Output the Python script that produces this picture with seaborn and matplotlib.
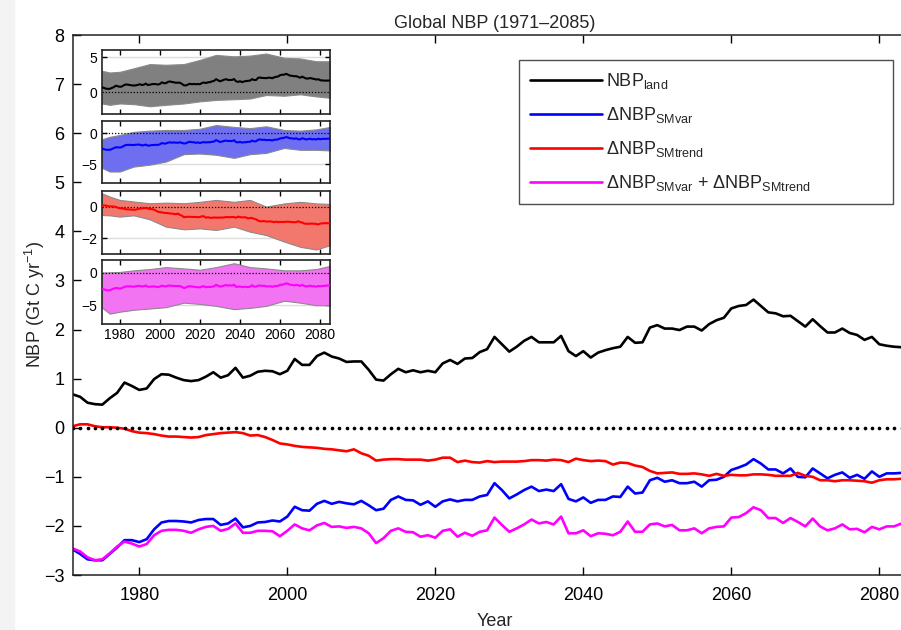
import matplotlib
matplotlib.use("Agg")
import matplotlib.pyplot as plt
from matplotlib.patches import Rectangle
import seaborn as sns
import numpy as np

sns.set_style("white")
plt.rcParams['font.family'] = ['Liberation Sans', 'DejaVu Sans']
plt.rcParams['mathtext.fontset'] = 'custom'
plt.rcParams['mathtext.rm'] = 'Liberation Sans'
plt.rcParams['mathtext.it'] = 'Liberation Sans:italic'
plt.rcParams['mathtext.bf'] = 'Liberation Sans:bold'

# ---------------- data ----------------
years = list(range(1971, 2086))

nbp_land = [0.68, 0.63, 0.51, 0.48, 0.47, 0.60, 0.71, 0.92, 0.85, 0.77,
            0.80, 0.99, 1.09, 1.08, 1.02, 0.97, 0.95, 0.97, 1.04, 1.13,
            1.02, 1.07, 1.22, 1.02, 1.06, 1.14, 1.16, 1.15, 1.09, 1.16,
            1.40, 1.28, 1.28, 1.46, 1.53, 1.45, 1.41, 1.34, 1.35, 1.35,
            1.18, 0.98, 0.96, 1.09, 1.20, 1.13, 1.17, 1.13, 1.16, 1.13,
            1.31, 1.38, 1.30, 1.41, 1.42, 1.54, 1.60, 1.85, 1.70, 1.55,
            1.65, 1.77, 1.85, 1.74, 1.74, 1.74, 1.87, 1.56, 1.46, 1.56,
            1.43, 1.53, 1.58, 1.62, 1.65, 1.85, 1.73, 1.74, 2.04, 2.09,
            2.02, 2.02, 1.99, 2.06, 2.06, 1.98, 2.11, 2.19, 2.24, 2.43,
            2.48, 2.50, 2.61, 2.48, 2.35, 2.33, 2.27, 2.28, 2.17, 2.06,
            2.21, 2.07, 1.94, 1.94, 2.02, 1.93, 1.89, 1.79, 1.85, 1.70,
            1.67, 1.65, 1.64, 1.66, 1.63]

d_smvar = [-2.48, -2.57, -2.68, -2.70, -2.70, -2.57, -2.44, -2.29, -2.29, -2.33,
           -2.27, -2.07, -1.93, -1.90, -1.90, -1.91, -1.93, -1.88, -1.86, -1.86,
           -1.98, -1.95, -1.85, -2.03, -2.00, -1.93, -1.92, -1.89, -1.91, -1.81,
           -1.61, -1.68, -1.69, -1.55, -1.49, -1.55, -1.51, -1.54, -1.56, -1.49,
           -1.58, -1.68, -1.65, -1.47, -1.40, -1.47, -1.48, -1.57, -1.50, -1.61,
           -1.50, -1.46, -1.50, -1.47, -1.47, -1.40, -1.37, -1.13, -1.27, -1.44,
           -1.36, -1.27, -1.20, -1.29, -1.26, -1.29, -1.15, -1.45, -1.50, -1.42,
           -1.53, -1.47, -1.47, -1.40, -1.41, -1.20, -1.34, -1.32, -1.07, -1.02,
           -1.10, -1.07, -1.13, -1.13, -1.10, -1.20, -1.07, -1.06, -1.00, -0.86,
           -0.81, -0.75, -0.64, -0.73, -0.85, -0.85, -0.93, -0.83, -1.00, -1.01,
           -0.83, -0.93, -1.03, -0.96, -0.91, -1.02, -0.96, -1.04, -0.89, -1.00,
           -0.93, -0.93, -0.92, -0.90, -0.92]

d_smtrend = [0.03, 0.07, 0.07, 0.03, 0.01, 0.01, 0.00, -0.02, -0.07, -0.10,
             -0.11, -0.13, -0.16, -0.18, -0.18, -0.19, -0.20, -0.19, -0.15, -0.13,
             -0.11, -0.10, -0.09, -0.11, -0.16, -0.15, -0.19, -0.25, -0.32, -0.34,
             -0.37, -0.39, -0.40, -0.41, -0.43, -0.44, -0.46, -0.48, -0.44, -0.52,
             -0.57, -0.67, -0.65, -0.64, -0.64, -0.65, -0.65, -0.65, -0.67, -0.65,
             -0.61, -0.61, -0.70, -0.67, -0.70, -0.71, -0.68, -0.70, -0.69, -0.69,
             -0.69, -0.68, -0.66, -0.66, -0.67, -0.65, -0.66, -0.70, -0.63, -0.66,
             -0.68, -0.67, -0.68, -0.75, -0.71, -0.72, -0.77, -0.80, -0.88, -0.93,
             -0.92, -0.91, -0.94, -0.94, -0.93, -0.95, -0.98, -0.94, -0.98, -0.96,
             -0.97, -0.97, -0.95, -0.95, -0.96, -0.98, -0.98, -0.98, -0.92, -0.98,
             -1.00, -1.07, -1.07, -1.09, -1.07, -1.07, -1.08, -1.09, -1.12, -1.07,
             -1.05, -1.05, -1.04, -1.05, -1.04]

d_sum = [-2.46, -2.52, -2.64, -2.70, -2.68, -2.56, -2.42, -2.32, -2.36, -2.42,
         -2.37, -2.19, -2.10, -2.08, -2.08, -2.10, -2.14, -2.07, -2.02, -2.00,
         -2.10, -2.06, -1.95, -2.14, -2.14, -2.10, -2.10, -2.11, -2.21, -2.10,
         -1.97, -2.05, -2.09, -1.99, -1.94, -2.02, -2.01, -2.04, -2.02, -2.05,
         -2.15, -2.35, -2.25, -2.10, -2.05, -2.12, -2.13, -2.22, -2.19, -2.24,
         -2.10, -2.07, -2.22, -2.14, -2.20, -2.12, -2.09, -1.83, -1.98, -2.12,
         -2.05, -1.97, -1.87, -1.95, -1.92, -1.97, -1.81, -2.15, -2.15, -2.09,
         -2.21, -2.15, -2.16, -2.19, -2.12, -1.91, -2.12, -2.12, -1.97, -1.95,
         -2.01, -1.98, -2.09, -2.09, -2.05, -2.15, -2.05, -2.02, -2.01, -1.83,
         -1.82, -1.74, -1.62, -1.68, -1.84, -1.84, -1.94, -1.84, -1.92, -2.01,
         -1.85, -2.01, -2.09, -2.05, -1.97, -2.07, -2.06, -2.13, -2.02, -2.07,
         -2.01, -2.01, -1.95, -1.96, -1.95]

# inset uncertainty bands (ensemble range)
band_years = [1971, 1975, 1980, 1987, 1995, 2003, 2012, 2020, 2028, 2037, 2045, 2053, 2062, 2070, 2078, 2085]
land_lo = [-1.6, -1.8, -1.6, -1.7, -2.0, -1.8, -1.6, -1.3, -1.1, -1.0, -0.9, -0.4, -0.5, -0.3, -0.6, -0.8]
land_hi = [3.05, 2.8, 2.9, 3.4, 4.0, 3.9, 4.0, 4.6, 5.3, 5.1, 5.2, 5.5, 4.9, 4.8, 4.4, 4.4]
smvar_lo = [-5.6, -6.2, -6.2, -5.4, -5.1, -4.6, -3.4, -3.3, -3.5, -4.0, -3.4, -3.2, -2.4, -2.7, -2.7, -2.8]
smvar_hi = [-1.0, -0.6, -0.3, 0.2, 0.4, 0.5, 0.5, 0.7, 1.3, 1.0, 0.8, 1.1, 0.5, 0.4, 0.6, 1.0]
smtrend_lo = [-0.53, -0.55, -0.63, -0.55, -0.80, -1.26, -1.43, -1.37, -1.47, -1.26, -1.58, -1.79, -2.2, -2.53, -2.7, -2.42]
smtrend_hi = [0.84, 0.63, 0.42, 0.32, 0.21, 0.25, 0.21, 0.30, 0.42, 0.30, 0.42, 0.0, 0.2, 0.3, 0.2, 0.17]
sum_lo = [-5.3, -6.3, -6.0, -5.7, -5.5, -5.3, -4.6, -4.8, -5.1, -5.6, -5.4, -5.1, -4.3, -4.6, -5.0, -5.0]
sum_hi = [0.0, 0.1, 0.15, 0.4, 0.6, 0.9, 0.7, 0.5, 0.9, 1.5, 0.9, 0.7, 0.4, 0.4, 0.6, 1.1]

zero_line = [0.0] * len(years)

labels = ['NBP$_{\\mathrm{land}}$',
          '\u0394NBP$_{\\mathrm{SMvar}}$',
          '\u0394NBP$_{\\mathrm{SMtrend}}$',
          '\u0394NBP$_{\\mathrm{SMvar}}$ + \u0394NBP$_{\\mathrm{SMtrend}}$']
line_colors = ['#000000', '#0000ff', '#ff0000', '#ff00ff']
band_colors = ['#808080', '#6e6ef0', '#f2786e', '#f274f2']

# ---------------- figure ----------------
W, H = 901, 630
fig = plt.figure(figsize=(W / 100, H / 100), dpi=100)
fig.patches.append(Rectangle((0, 0), 14 / W, 1, transform=fig.transFigure,
                             color='#f3f3f3', zorder=-10))

ax = fig.add_axes([72.7 / W, (H - 575) / H, (916.3 - 72.7) / W, 540 / H])

series = [nbp_land, d_smvar, d_smtrend, d_sum]
for vals, col, lab in zip(series, line_colors, labels):
    sns.lineplot(x=years, y=vals, ax=ax, color=col, lw=1.9, label=lab, legend=False)

sns.scatterplot(x=years, y=zero_line, ax=ax, color='k', s=7, linewidth=0, zorder=5, legend=False)

ax.set_xlim(1971, 2085)
ax.set_ylim(-3, 8)
ax.set_xticks([1980, 2000, 2020, 2040, 2060, 2080])
ax.set_yticks(range(-3, 9))
ax.tick_params(direction='in', length=6, width=1, bottom=True, left=True,
               top=True, right=True, labelsize=13, colors='k')
ax.tick_params(axis='x', pad=9)
ax.tick_params(axis='y', pad=6)
for sp in ax.spines.values():
    sp.set_linewidth(1.1)
    sp.set_color('#222222')
ax.set_xlabel('Year', fontsize=13, labelpad=6)
ax.set_ylabel('NBP (Gt C yr$^{-1}$)', fontsize=13, labelpad=-2)
ax.set_title('Global NBP (1971\u20132085)', fontsize=13, pad=5)

ax.legend(loc='upper left', bbox_to_anchor=(0.529, 0.689, 0.4433, 0.2647),
          mode='expand', borderaxespad=0, frameon=True, fancybox=False,
          edgecolor='#222222', fontsize=13, handlelength=4.0,
          handletextpad=0.2, labelspacing=0.78, borderpad=0.6)
ax.get_legend().get_frame().set_linewidth(1.0)

# ---------------- insets ----------------
inset_specs = [
    (50, 114, (-3.1, 6.0), [0, 5], land_lo, land_hi),
    (120.7, 183.3, (-8.1, 2.0), [-5, 0], smvar_lo, smvar_hi),
    (190.7, 254.3, (-3.0, 1.0), [-2, 0], smtrend_lo, smtrend_hi),
    (260, 324, (-7.9, 2.0), [-5, 0], sum_lo, sum_hi),
]
for i, (top, bot, ylim, yt, lo, hi) in enumerate(inset_specs):
    iax = fig.add_axes([101.7 / W, (H - bot) / H, 228.6 / W, (bot - top) / H])
    iax.set_facecolor('white')
    iax.set_axisbelow(True)
    for g in yt:
        if g != 0:
            iax.axhline(g, color='#dcdcdc', lw=1.0, zorder=0)
    iax.fill_between(band_years, lo, hi, facecolor=band_colors[i],
                     edgecolor='#8a8a8a', lw=0.8, zorder=1)
    iax.axhline(0, color='k', lw=0.9, ls=(0, (1, 1.5)), zorder=2)
    sns.lineplot(x=years, y=series[i], ax=iax, color=line_colors[i], lw=1.5,
                 legend=False, zorder=3)
    iax.set_xlim(1971, 2085)
    iax.set_ylim(*ylim)
    iax.set_yticks(yt)
    iax.set_xticks([1980, 2000, 2020, 2040, 2060, 2080])
    iax.tick_params(direction='in', length=3.5, width=1, bottom=True, left=True,
                    top=True, right=True, labelsize=10, pad=3, colors='k')
    iax.set_xlabel('')
    iax.set_ylabel('')
    if i < 3:
        iax.set_xticklabels([])
    for sp in iax.spines.values():
        sp.set_linewidth(1.2)
        sp.set_color('#222222')

fig.savefig('out.png', dpi=100)
